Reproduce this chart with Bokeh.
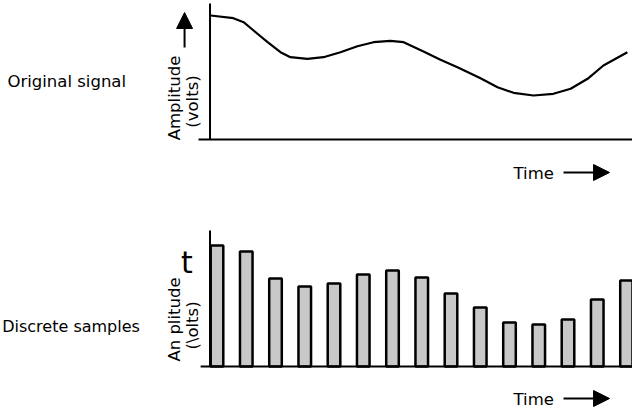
import math
from bokeh.plotting import figure
from bokeh.layouts import column
from bokeh.models import Range1d, Label, Arrow, NormalHead, ColumnDataSource
from bokeh.embed import file_html
from bokeh.resources import INLINE

# ---- data ----
# continuous signal: time (sample-interval units) and amplitude (arbitrary units)
curve_time = [-0.22, 0.56, 0.91, 1.25, 1.73, 2.17, 2.51, 3.09, 3.64, 4.22, 4.80, 5.35,
              5.93, 6.38, 7.06, 7.64, 8.22, 9.01, 9.59, 10.14, 10.82, 11.50, 12.09,
              12.67, 13.21, 14.03]
curve_amp = [124, 121.3, 117.3, 109, 97.3, 87.3, 82.3, 80.7, 82.3, 87.3, 93.3, 97.3,
             98.7, 97.3, 88, 79.7, 72.3, 61.3, 52.3, 46.7, 44, 45.7, 50.7,
             60.7, 74, 87.3]
# discrete samples
sample_index = list(range(15))
sample_amp = [121, 115, 88, 80, 83, 92, 96, 89, 73, 59, 44, 42, 47, 67, 86]

top_label = "Original signal"
bottom_label = "Discrete samples"
y_label_top = ["Amplitude", "(volts)"]
y_label_bottom = ["An plitude", "(\\olts)"]
x_label = "Time"

FONT = "DejaVu Sans"
FS = "16.5px"
X0, X1 = -7.402, 14.205   # canvas edges in time units


def make_fig(height, y_start, y_end):
    p = figure(width=632, height=height, output_backend="svg", toolbar_location=None,
               x_axis_location=None, y_axis_location=None, title=None,
               x_range=Range1d(X0, X1), y_range=Range1d(y_start, y_end))
    p.min_border_left = 0
    p.min_border_right = 0
    p.min_border_top = 0
    p.min_border_bottom = 0
    p.outline_line_color = None
    p.xgrid.visible = False
    p.ygrid.visible = False
    p.background_fill_color = "white"
    p.border_fill_color = "white"
    return p


def axis_line(p, xs, ys, xe, ye):
    p.add_layout(Arrow(end=None, x_start=xs, y_start=ys, x_end=xe, y_end=ye,
                       line_color="black", line_width=2))


def head_arrow(p, xs, ys, xe, ye):
    p.add_layout(Arrow(end=NormalHead(size=16, fill_color="black", line_color="black"),
                       x_start=xs, y_start=ys, x_end=xe, y_end=ye,
                       line_color="black", line_width=2))


def add_labels(p, side_text, side_x, side_y, side_fs, ylabels, yl_pos, time_y, arrow_y):
    p.add_layout(Label(x=side_x, y=side_y, text=side_text, text_font=FONT,
                       text_font_size=side_fs, text_align="center", text_baseline="middle",
                       text_color="black"))
    for txt, (lx, ly) in zip(ylabels, yl_pos):
        p.add_layout(Label(x=lx, y=ly, text=txt, text_font=FONT, text_font_size=FS,
                           text_align="center", text_baseline="middle", angle=math.pi / 2,
                           text_color="black"))
    p.add_layout(Label(x=10.137, y=time_y, text=x_label, text_font=FONT, text_font_size=FS,
                       text_align="left", text_baseline="middle", text_color="black"))
    head_arrow(p, 11.846, arrow_y, 13.42, arrow_y)


# ---- top: original signal ----
p1 = make_fig(200, -61, 139)
axis_line(p1, -0.239, 0, -0.239, 136)
axis_line(p1, -0.6325, 0, 14.4, 0)
p1.line(curve_time, curve_amp, line_color="black", line_width=2.2, line_join="round")
add_labels(p1, top_label, -5.137, 58, FS, y_label_top, [(-1.45, 41.5), (-0.84, 38)], -34, -33)
head_arrow(p1, -1.109, 92, -1.109, 127)

# ---- bottom: discrete samples ----
p2 = make_fig(216, -50, 166)
axis_line(p2, -0.239, 0, -0.239, 136)
axis_line(p2, -0.56, 0, 14.4, 0)
src = ColumnDataSource(dict(x=sample_index, top=sample_amp))
p2.vbar(x="x", top="top", bottom=0, width=0.43, source=src, fill_color="#c8c8c8",
        line_color="black", line_width=2.5)
add_labels(p2, bottom_label, -4.99, 40, "16px", y_label_bottom, [(-1.47, 47), (-0.84, 41)], -33, -32)
p2.add_layout(Label(x=-1.026, y=104, text="t", text_font=FONT, text_font_size="30px",
                    text_align="center", text_baseline="alphabetic", text_color="black"))

layout = column(p1, p2, spacing=0)
open("out.html", "w").write(file_html(layout, INLINE))
